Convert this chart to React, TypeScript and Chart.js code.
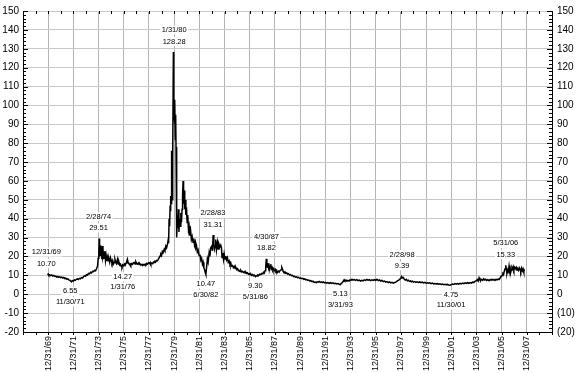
import React, { useEffect, useRef } from "react";
import { Chart, registerables } from "chart.js";

Chart.register(...registerables);

// Decimal years (12/31/69 tick = 1970.0)
const years: number[] = [
  1969.94, 1970.0, 1970.05, 1970.12, 1970.2, 1970.28, 1970.36, 1970.44, 1970.52, 1970.6, 1970.68, 1970.76, 1970.84, 1970.92,
  1971.0, 1971.08, 1971.16, 1971.24, 1971.32, 1971.4, 1971.48, 1971.56, 1971.64, 1971.72, 1971.8, 1971.85, 1971.92,
  1972.0, 1972.08, 1972.16, 1972.24, 1972.32, 1972.4, 1972.48, 1972.56, 1972.64, 1972.72, 1972.8, 1972.88, 1972.96,
  1973.04, 1973.12, 1973.2, 1973.28, 1973.36, 1973.44, 1973.52, 1973.6, 1973.68, 1973.76, 1973.84, 1973.92, 1973.97,
  1974.02, 1974.05, 1974.08, 1974.12, 1974.15, 1974.18, 1974.22, 1974.27, 1974.31, 1974.35, 1974.4, 1974.44, 1974.5,
  1974.55, 1974.6, 1974.66, 1974.71, 1974.76, 1974.82, 1974.88, 1974.94, 1975.0, 1975.06, 1975.12, 1975.18, 1975.24,
  1975.3, 1975.36, 1975.42, 1975.5, 1975.56, 1975.62, 1975.68, 1975.74, 1975.8, 1975.86, 1975.92, 1976.0, 1976.06,
  1976.12, 1976.18, 1976.24, 1976.29, 1976.34, 1976.4, 1976.46, 1976.52, 1976.56, 1976.62, 1976.7, 1976.76, 1976.83,
  1976.9, 1976.96, 1977.02, 1977.09, 1977.16, 1977.22, 1977.28, 1977.36, 1977.44, 1977.5, 1977.56, 1977.62, 1977.7,
  1977.76, 1977.82, 1977.88, 1977.96, 1978.04, 1978.1, 1978.15, 1978.22, 1978.3, 1978.36, 1978.41, 1978.48, 1978.54,
  1978.6, 1978.67, 1978.74, 1978.81, 1978.88, 1978.94, 1979.0, 1979.06, 1979.12, 1979.21, 1979.27, 1979.34, 1979.4,
  1979.47, 1979.52, 1979.56, 1979.6, 1979.64, 1979.68, 1979.71, 1979.74, 1979.77, 1979.8, 1979.83, 1979.87, 1979.9,
  1979.94, 1979.97, 1980.0, 1980.03, 1980.06, 1980.09, 1980.12, 1980.15, 1980.18, 1980.22, 1980.26, 1980.3, 1980.34,
  1980.38, 1980.43, 1980.48, 1980.53, 1980.58, 1980.63, 1980.67, 1980.71, 1980.75, 1980.79, 1980.84, 1980.88, 1980.93,
  1980.98, 1981.03, 1981.08, 1981.14, 1981.19, 1981.25, 1981.31, 1981.37, 1981.43, 1981.5, 1981.56, 1981.62, 1981.68,
  1981.72, 1981.78, 1981.84, 1981.9, 1981.98, 1982.05, 1982.12, 1982.18, 1982.25, 1982.3, 1982.36, 1982.42, 1982.47,
  1982.52, 1982.58, 1982.64, 1982.7, 1982.78, 1982.84, 1982.9, 1982.99, 1983.04, 1983.1, 1983.15, 1983.2, 1983.25,
  1983.3, 1983.36, 1983.44, 1983.5, 1983.56, 1983.63, 1983.7, 1983.76, 1983.8, 1983.86, 1983.92, 1983.97, 1984.04,
  1984.1, 1984.16, 1984.23, 1984.3, 1984.37, 1984.43, 1984.5, 1984.56, 1984.63, 1984.7, 1984.77, 1984.84, 1984.9,
  1984.97, 1985.04, 1985.1, 1985.16, 1985.23, 1985.3, 1985.36, 1985.42, 1985.5, 1985.57, 1985.63, 1985.7, 1985.76,
  1985.82, 1985.9, 1985.97, 1986.04, 1986.1, 1986.16, 1986.23, 1986.3, 1986.36, 1986.45, 1986.52, 1986.58, 1986.65,
  1986.72, 1986.8, 1986.88, 1986.96, 1987.04, 1987.1, 1987.16, 1987.22, 1987.27, 1987.32, 1987.36, 1987.4, 1987.45,
  1987.5, 1987.54, 1987.58, 1987.63, 1987.67, 1987.72, 1987.78, 1987.84, 1987.9, 1987.96, 1988.02, 1988.08, 1988.14,
  1988.2, 1988.28, 1988.34, 1988.42, 1988.5, 1988.55, 1988.6, 1988.66, 1988.72, 1988.8, 1988.86, 1988.94, 1989.0,
  1989.08, 1989.16, 1989.24, 1989.32, 1989.4, 1989.48, 1989.56, 1989.64, 1989.72, 1989.8, 1989.88, 1989.96, 1990.06,
  1990.14, 1990.22, 1990.3, 1990.38, 1990.46, 1990.54, 1990.62, 1990.7, 1990.78, 1990.86, 1990.94, 1991.02, 1991.11,
  1991.2, 1991.28, 1991.36, 1991.44, 1991.52, 1991.6, 1991.68, 1991.76, 1991.84, 1991.92, 1992.0, 1992.1, 1992.2,
  1992.3, 1992.4, 1992.5, 1992.6, 1992.7, 1992.8, 1992.9, 1993.0, 1993.1, 1993.2, 1993.28, 1993.36, 1993.44, 1993.5,
  1993.56, 1993.64, 1993.72, 1993.8, 1993.88, 1993.96, 1994.04, 1994.12, 1994.2, 1994.3, 1994.4, 1994.5, 1994.6,
  1994.7, 1994.8, 1994.9, 1995.0, 1995.1, 1995.2, 1995.3, 1995.4, 1995.5, 1995.6, 1995.7, 1995.8, 1995.9, 1996.0,
  1996.1, 1996.2, 1996.3, 1996.4, 1996.5, 1996.6, 1996.7, 1996.8, 1996.9, 1997.0, 1997.1, 1997.2, 1997.3, 1997.4,
  1997.5, 1997.6, 1997.7, 1997.8, 1997.9, 1998.0, 1998.06, 1998.12, 1998.2, 1998.28, 1998.36, 1998.44, 1998.52,
  1998.6, 1998.68, 1998.76, 1998.84, 1998.92, 1999.0, 1999.1, 1999.2, 1999.3, 1999.4, 1999.5, 1999.6, 1999.7, 1999.8,
  1999.9, 2000.0, 2000.1, 2000.2, 2000.3, 2000.4, 2000.5, 2000.6, 2000.7, 2000.8, 2000.9, 2001.0, 2001.1, 2001.2,
  2001.3, 2001.4, 2001.5, 2001.6, 2001.7, 2001.8, 2001.9, 2002.0, 2002.1, 2002.2, 2002.3, 2002.4, 2002.5, 2002.6,
  2002.7, 2002.8, 2002.9, 2003.0, 2003.1, 2003.2, 2003.3, 2003.4, 2003.5, 2003.6, 2003.7, 2003.8, 2003.9, 2004.0,
  2004.07, 2004.14, 2004.21, 2004.28, 2004.34, 2004.42, 2004.5, 2004.58, 2004.66, 2004.74, 2004.82, 2004.9, 2005.0,
  2005.08, 2005.16, 2005.24, 2005.32, 2005.4, 2005.48, 2005.56, 2005.64, 2005.72, 2005.8, 2005.88, 2005.96, 2006.04,
  2006.1, 2006.16, 2006.22, 2006.28, 2006.33, 2006.38, 2006.42, 2006.46, 2006.5, 2006.55, 2006.59, 2006.64, 2006.68,
  2006.72, 2006.77, 2006.82, 2006.86, 2006.92, 2006.97, 2007.02, 2007.07, 2007.12, 2007.17, 2007.22, 2007.28, 2007.34,
  2007.4, 2007.46, 2007.52, 2007.58, 2007.64, 2007.7, 2007.76, 2007.8,
];

const prices: number[] = [
  10.3, 10.7, 10.1, 10.4, 9.9, 10.2, 9.6, 9.9, 9.4, 9.6, 9.1, 9.4, 8.9, 9.2,
  8.8, 9.1, 8.6, 8.9, 8.3, 8.5, 7.9, 8.2, 7.6, 7.4, 6.9, 6.55, 7.2,
  7.0, 7.6, 7.4, 7.9, 8.1, 7.8, 8.4, 8.2, 8.8, 8.6, 9.3, 9.7, 9.5,
  10.4, 10.2, 11.0, 10.8, 11.6, 11.3, 12.1, 12.0, 12.6, 12.4, 13.5, 15.0, 19.0,
  22.0, 29.51, 20.0, 24.0, 26.0, 20.3, 22.5, 18.5, 25.5, 19.5, 21.0, 19.0, 22.9,
  18.0, 20.5, 17.5, 19.5, 17.7, 18.8, 17.0, 19.4, 18.0, 16.5, 17.8, 16.0, 16.8,
  18.5, 17.0, 16.2, 18.5, 16.0, 17.0, 15.5, 15.9, 14.8, 14.27, 15.6, 15.0, 16.0,
  15.4, 16.5, 17.5, 18.5, 16.8, 16.2, 15.6, 16.0, 15.4, 16.2, 15.8, 16.6, 16.8,
  16.0, 17.2, 16.4, 15.9, 16.5, 15.8, 16.2, 15.4, 15.8, 15.2, 15.7, 15.4, 16.0,
  15.6, 16.3, 15.9, 16.6, 16.2, 16.8, 15.9, 16.5, 16.2, 17.0, 16.8, 17.4, 17.1,
  17.9, 17.7, 18.5, 19.4, 20.2, 21.2, 20.5, 22.6, 22.0, 23.8, 23.0, 25.5, 24.6,
  26.4, 28.5, 27.0, 40.0, 36.0, 47.0, 44.0, 52.0, 48.0, 76.0, 50.0, 60.0, 72.0,
  128.28, 92.0, 100.0, 90.0, 103.0, 82.0, 95.0, 78.0, 58.0, 30.0, 42.0, 35.0, 45.0,
  33.0, 40.0, 36.0, 43.0, 38.0, 45.0, 52.0, 60.0, 48.0, 55.0, 45.0, 50.0, 42.0,
  46.0, 38.0, 42.0, 34.0, 36.0, 31.0, 33.5, 29.0, 30.5, 27.5, 29.5, 26.0, 27.5,
  24.5, 25.5, 22.5, 23.5, 20.5, 21.0, 18.0, 19.0, 16.0, 17.0, 14.0, 13.0, 11.5,
  10.47, 14.5, 18.7, 17.0, 22.0, 20.0, 24.5, 25.5, 23.0, 31.31, 27.0, 24.0, 25.5,
  29.0, 23.5, 27.5, 24.0, 26.5, 25.0, 26.0, 24.6, 19.4, 21.8, 18.5, 21.3, 18.6,
  20.2, 18.2, 19.4, 16.9, 17.6, 15.8, 16.5, 14.9, 15.2, 14.1, 14.8, 13.6, 14.2,
  13.0, 13.5, 12.4, 12.6, 12.0, 12.5, 11.8, 12.1, 11.5, 11.9, 11.2, 11.6, 11.0,
  11.3, 10.6, 10.9, 10.3, 10.6, 10.0, 10.4, 9.8, 10.1, 9.3, 9.8, 9.6, 10.2,
  10.0, 10.6, 10.4, 11.0, 10.8, 11.6, 11.2, 12.5, 14.5, 18.82, 16.0, 14.3, 16.5,
  14.0, 15.0, 13.5, 14.8, 15.9, 13.4, 14.2, 12.8, 13.5, 12.5, 13.2, 12.1, 12.6,
  11.5, 12.2, 11.8, 12.6, 13.0, 14.2, 13.4, 12.0, 11.6, 11.9, 11.1, 11.3, 10.7,
  10.9, 10.2, 10.4, 9.8, 10.0, 9.3, 9.5, 9.0, 9.2, 8.8, 9.0, 8.5, 8.6,
  8.2, 8.4, 7.9, 8.1, 7.6, 7.8, 7.3, 7.5, 7.0, 7.2, 6.7, 6.9, 6.3,
  6.5, 6.1, 6.6, 6.4, 6.8, 6.3, 6.6, 6.2, 6.5, 6.0, 6.3, 5.9, 6.2,
  5.8, 6.1, 5.7, 6.0, 5.6, 5.8, 5.5, 5.7, 5.3, 5.13, 5.8, 6.2, 7.0, 7.6,
  7.1, 7.5, 6.9, 7.3, 7.0, 7.6, 7.4, 7.9, 7.5, 7.8, 7.3, 7.7, 7.2,
  7.5, 7.0, 7.4, 7.1, 7.6, 7.3, 7.8, 7.4, 7.7, 7.2, 7.6, 7.3, 7.7, 7.4,
  7.9, 7.2, 7.6, 7.0, 7.3, 6.7, 7.0, 6.4, 6.7, 6.2, 6.5, 6.0, 6.3, 5.9,
  6.2, 6.4, 6.9, 7.3, 7.9, 8.5, 9.39, 8.6, 8.9, 7.8, 7.5, 7.9, 7.1,
  7.4, 6.8, 7.1, 6.6, 6.9, 6.4, 6.7, 6.3, 6.6, 6.2, 6.5, 6.1, 6.4, 6.0,
  6.3, 5.9, 6.1, 5.8, 6.0, 5.6, 5.9, 5.5, 5.7, 5.4, 5.6, 5.3, 5.5, 5.2,
  5.4, 5.1, 5.3, 5.0, 5.2, 4.9, 4.75, 5.1, 5.4, 5.2, 5.6, 5.3, 5.7, 5.4,
  5.8, 5.5, 5.9, 5.6, 6.0, 5.7, 6.1, 5.8, 6.2, 5.9, 6.4, 6.3, 6.9, 7.2,
  7.8, 7.0, 8.7, 7.6, 7.2, 7.9, 7.4, 8.2, 7.5, 7.9, 7.3, 7.7, 7.2,
  7.8, 7.4, 7.9, 7.5, 7.8, 7.3, 7.9, 7.6, 8.0, 7.8, 8.6, 9.5, 9.9,
  11.0, 10.6, 12.4, 13.5, 15.33, 13.0, 11.2, 12.4, 11.0, 13.2, 15.0, 12.5, 13.6,
  11.5, 12.8, 14.0, 13.3, 14.6, 13.0, 14.2, 13.5, 14.5, 12.8, 14.0, 13.4, 12.6,
  14.0, 13.2, 12.0, 13.8, 12.4, 13.5, 11.8, 13.2,
];

// Annotated extremes
const annotDates: string[] = ["12/31/69", "11/30/71", "2/28/74", "1/31/76", "1/31/80", "6/30/82", "2/28/83", "5/31/86", "4/30/87", "3/31/93", "2/28/98", "11/30/01", "5/31/06"];
const annotValues: number[] = [10.7, 6.55, 29.51, 14.27, 128.28, 10.47, 31.31, 9.3, 18.82, 5.13, 9.39, 4.75, 15.33];
const annotYears: number[] = [1969.85, 1971.75, 1974.0, 1975.92, 1980.0, 1982.52, 1983.08, 1986.45, 1987.33, 1993.2, 1998.1, 2001.98, 2006.33];
const annotSides: string[] = ["above", "below", "above", "below", "above", "below", "above", "below", "above", "below", "above", "below", "above"];

// Axis ticks
const xTickYears: number[] = [1968, 1970, 1972, 1974, 1976, 1978, 1980, 1982, 1984, 1986, 1988, 1990, 1992, 1994, 1996, 1998, 2000, 2002, 2004, 2006, 2008, 2010];
const xTickLabels: string[] = ["", "12/31/69", "12/31/71", "12/31/73", "12/31/75", "12/31/77", "12/31/79", "12/31/81", "12/31/83", "12/31/85", "12/31/87", "12/31/89", "12/31/91", "12/31/93", "12/31/95", "12/31/97", "12/31/99", "12/31/01", "12/31/03", "12/31/05", "12/31/07", ""];

const FONT = "'Liberation Sans', Arial, Helvetica, sans-serif";

const decorPlugin = {
  id: "decor",
  afterDraw(chart: any) {
    const { ctx, chartArea } = chart;
    const xs = chart.scales.x;
    const ys = chart.scales.y;
    ctx.save();
    ctx.strokeStyle = "#000";
    ctx.lineWidth = 1;
    ctx.beginPath();
    for (let v = -20; v <= 150; v += 2) {
      const py = Math.round(ys.getPixelForValue(v)) + 0.5;
      const len = v % 10 === 0 ? 5 : 3;
      ctx.moveTo(chartArea.left, py);
      ctx.lineTo(chartArea.left + len, py);
      ctx.moveTo(chartArea.right, py);
      ctx.lineTo(chartArea.right - len, py);
    }
    for (let yr = 1968; yr <= 2010; yr += 1) {
      const px = Math.round(xs.getPixelForValue(yr)) + 0.5;
      ctx.moveTo(px, chartArea.top);
      ctx.lineTo(px, chartArea.top + 3);
      ctx.moveTo(px, chartArea.bottom);
      ctx.lineTo(px, chartArea.bottom + 3);
    }
    ctx.stroke();
    ctx.restore();
  },
  afterDatasetsDraw(chart: any) {
    const { ctx } = chart;
    const xs = chart.scales.x;
    const ys = chart.scales.y;
    ctx.save();
    ctx.font = `7.5px ${FONT}`;
    ctx.textAlign = "center";
    ctx.textBaseline = "middle";
    for (let i = 0; i < annotDates.length; i++) {
      const px = xs.getPixelForValue(annotYears[i]);
      const py = ys.getPixelForValue(annotValues[i]);
      const above = annotSides[i] === "above";
      const valY = above ? py - 10.5 : py + 9.5;
      const dateY = above ? py - 22 : py + 20;
      const items: [string, number][] = [
        [annotDates[i], dateY],
        [annotValues[i].toFixed(2), valY],
      ];
      for (const [t, ty] of items) {
        const w = ctx.measureText(t).width;
        ctx.fillStyle = "#fff";
        ctx.fillRect(px - w / 2 - 1.5, ty - 4.5, w + 3, 9);
        ctx.fillStyle = "#000";
        ctx.fillText(t, px, ty);
      }
    }
    ctx.restore();
  },
};

export default function App() {
  const ref = useRef<HTMLCanvasElement | null>(null);
  useEffect(() => {
    if (!ref.current) return;
    const points = years.map((x, i) => ({ x, y: prices[i] }));
    const chart = new Chart(ref.current, {
      type: "line",
      data: {
        datasets: [
          {
            data: points,
            borderColor: "#000",
            borderWidth: 1.5,
            pointRadius: 0,
            fill: false,
            tension: 0,
            xAxisID: "x",
            yAxisID: "y",
          },
        ],
      },
      options: {
        animation: false,
        responsive: false,
        devicePixelRatio: 1,
        layout: { padding: { top: 7, left: 0, right: 0, bottom: 0 } },
        plugins: { legend: { display: false }, tooltip: { enabled: false } },
        scales: {
          x: {
            type: "linear",
            min: 1968,
            max: 2010,
            afterBuildTicks: (s: any) => {
              s.ticks = xTickYears.map((v) => ({ value: v }));
            },
            ticks: {
              autoSkip: false,
              maxRotation: 90,
              minRotation: 90,
              padding: 4,
              color: "#000",
              font: { family: FONT, size: 9 },
              callback: (v: any) => {
                const idx = xTickYears.indexOf(Number(v));
                return idx >= 0 ? xTickLabels[idx] : "";
              },
            },
            grid: { color: "#b4b4b4", drawTicks: false, lineWidth: 1 },
            border: { display: true, color: "#000", width: 1 },
            afterFit: (s: any) => {
              s.height = 41;
            },
          },
          y: {
            type: "linear",
            position: "left",
            min: -20,
            max: 150,
            ticks: {
              stepSize: 10,
              padding: 4,
              color: "#000",
              font: { family: FONT, size: 10 },
            },
            grid: { color: "#c8c8c8", drawTicks: false, lineWidth: 1 },
            border: { display: true, color: "#000", width: 1 },
            afterFit: (s: any) => {
              s.width = 23;
            },
          },
          y2: {
            type: "linear",
            position: "right",
            min: -20,
            max: 150,
            ticks: {
              stepSize: 10,
              padding: 5,
              color: "#000",
              font: { family: FONT, size: 10 },
              callback: (v: any) => (Number(v) < 0 ? `(${-Number(v)})` : String(v)),
            },
            grid: { display: false, drawTicks: false },
            border: { display: true, color: "#000", width: 1 },
            afterFit: (s: any) => {
              s.width = 29;
            },
          },
        },
      },
      plugins: [decorPlugin],
    } as any);
    return () => chart.destroy();
  }, []);

  return (
    <div style={{ position: "fixed", left: 0, top: 0, width: 581, height: 373, background: "#fff" }}>
      <canvas ref={ref} width={581} height={373} style={{ width: 581, height: 373, display: "block" }} />
    </div>
  );
}
